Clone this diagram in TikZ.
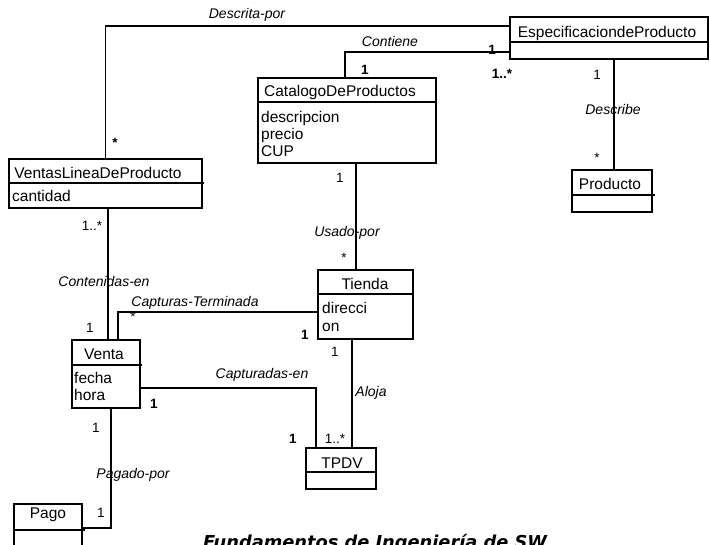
\documentclass[tikz,border=0pt]{standalone}
\usepackage{fontspec}
\setmainfont{Liberation Sans}
\newfontfamily\footfont{DejaVu Sans}
\begin{document}
\begin{tikzpicture}[x=1pt,y=-1pt,
  cls/.style={draw,line width=1.6pt,anchor=north west,inner sep=0pt,outer sep=0pt},
  wire/.style={line width=1.6pt},
  cname/.style={anchor=base,inner sep=0pt,font=\fontsize{15.5}{17}\selectfont},
  attr/.style={anchor=base west,inner sep=0pt,font=\fontsize{15.5}{17}\selectfont},
  role/.style={anchor=base,inner sep=0pt,font=\fontsize{14}{16}\selectfont\itshape},
  mult/.style={anchor=base,inner sep=0pt,font=\fontsize{13.5}{16}\selectfont},
  multb/.style={anchor=base,inner sep=0pt,font=\fontsize{13.5}{16}\selectfont\bfseries}]
\useasboundingbox (0,0) rectangle (710,545);
\clip (0,0) rectangle (710,545);

% class boxes
\node[cls,minimum width=198pt,minimum height=42pt] (espec) at (510,17) {};
\node[cls,minimum width=178pt,minimum height=85pt] (cat) at (258,78) {};
\node[cls,minimum width=80pt,minimum height=42pt] (prod) at (572,170) {};
\node[cls,minimum width=193pt,minimum height=49pt] (vlp) at (9,159) {};
\node[cls,minimum width=95pt,minimum height=69pt] (tienda) at (318,270) {};
\node[cls,minimum width=68pt,minimum height=68pt] (venta) at (72,340) {};
\node[cls,minimum width=70pt,minimum height=41pt] (tpdv) at (306,448) {};
\node[cls,minimum width=68pt,minimum height=60pt] (pago) at (14,504) {};

% header dividers
\draw[wire] ([yshift=-25pt]espec.north west) -- ([yshift=-25pt]espec.north east);
\draw[wire] ([yshift=-24pt]cat.north west) -- ([yshift=-24pt]cat.north east);
\draw[wire] ([yshift=-25pt]prod.north west) -- ([yshift=-25pt,xshift=3pt]prod.north east);
\draw[wire] ([yshift=-24pt]vlp.north west) -- ([yshift=-24pt,xshift=2pt]vlp.north east);
\draw[wire] ([yshift=-24pt]tienda.north west) -- ([yshift=-24pt]tienda.north east);
\draw[wire] ([yshift=-25pt]venta.north west) -- ([yshift=-25pt,xshift=2pt]venta.north east);
\draw[wire] ([yshift=-24pt]tpdv.north west) -- ([yshift=-24pt]tpdv.north east);
\draw[wire] ([yshift=-26pt]pago.north west) -- ([yshift=-26pt,xshift=3pt]pago.north east);

% class names
\node[cname] (especN) at (607,38) {EspecificaciondeProducto};
\node[cname] (catN) at (340,97) {CatalogoDeProductos};
\node[cname] (prodN) at (610,190) {Producto};
\node[cname] (vlpN) at (98,179) {VentasLineaDeProducto};
\node[cname] (tiendaN) at (365,290) {Tienda};
\node[cname] (ventaN) at (104,360) {Venta};
\node[cname] (tpdvN) at (342,468) {TPDV};
\node[cname] (pagoN) at (48,518) {Pago};

% attributes
\node[attr] (catA1) at (261,123) {descripcion};
\node[attr] (catA2) at (261,140) {precio};
\node[attr] (catA3) at (261,157) {CUP};
\node[attr] (vlpA1) at (12,202) {cantidad};
\node[attr] (tiendaA1) at (322,314) {direcci};
\node[attr] (tiendaA2) at (322,332) {on};
\node[attr] (ventaA1) at (74,384) {fecha};
\node[attr] (ventaA2) at (74,401) {hora};

% associations
\draw[wire] (vlp.north) |- ([yshift=-9pt]espec.north west);
\draw[wire] ([xshift=-2pt]cat.north) |- ([yshift=-35pt]espec.north west);
\draw[wire] ([xshift=5pt]espec.south) -- ([xshift=2pt]prod.north);
\draw[wire] ([xshift=9pt]cat.south) -- ([xshift=-9.5pt]tienda.north);
\draw[wire] ([xshift=2.5pt]vlp.south) -- ([xshift=2pt]venta.north);
\draw[wire] ([xshift=12pt]venta.north) |- ([yshift=-42pt]tienda.north west);
\draw[wire] ([yshift=-48pt]venta.north east) -| ([xshift=10pt]tpdv.north west);
\draw[wire] ([xshift=-13.5pt]tienda.south) -- ([xshift=11pt]tpdv.north);
\draw[wire] ([xshift=5pt]venta.south) |- ([yshift=-24pt]pago.north east);

% association names
\node[role] (lDescrita) at (247,19) {Descrita-por};
\node[role] (lContiene) at (390,47) {Contiene};
\node[role] (lDescribe) at (613,115) {Describe};
\node[role] (lUsado) at (347,237) {Usado-por};
\node[role] (lContenidas) at (104,287) {Contenidas-en};
\node[role] (lCapturas) at (195,307) {Capturas-Terminada};
\node[role] (lCapturadas) at (262,379) {Capturadas-en};
\node[role] (lAloja) at (371,397) {Aloja};
\node[role] (lPagado) at (133,478) {Pagado-por};

% multiplicities
\node[multb] (m1) at (115,148) {*};
\node[multb] (m2) at (492,55) {1};
\node[multb] (m3) at (502,79) {1..*};
\node[multb] (m4) at (365,75) {1};
\node[mult] (m5) at (597,80) {1};
\node[mult] (m6) at (597,163) {*};
\node[mult] (m7) at (92,231) {1..*};
\node[mult] (m8) at (90,333) {1};
\node[mult] (m9) at (133,322) {*};
\node[multb] (m10) at (305,340) {1};
\node[mult] (m11) at (335,357) {1};
\node[multb] (m12) at (154,409) {1};
\node[mult] (m13) at (96,432) {1};
\node[multb] (m14) at (293,443) {1};
\node[mult] (m15) at (335,443) {1..*};
\node[mult] (m16) at (340,183) {1};
\node[mult] (m17) at (344,263) {*};
\node[mult] (m18) at (101,517) {1};

% running footer, cut by the lower page edge
\node[anchor=base west,inner sep=0pt,font=\footfont\bfseries\itshape\fontsize{17.8}{20}\selectfont] (foot) at (203,548) {Fundamentos de Ingeniería de SW};
\end{tikzpicture}
\end{document}
